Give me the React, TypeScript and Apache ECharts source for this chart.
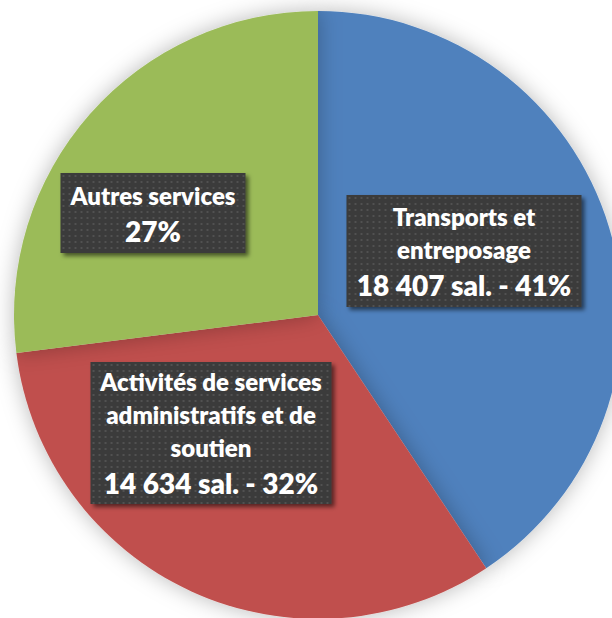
import React, { useEffect, useRef } from "react";
import * as echarts from "echarts";

const categories = ["Transports et entreposage", "Activités de services administratifs et de soutien", "Autres services"];
const labelNameLines = [["Transports et", "entreposage"], ["Activités de services", "administratifs et de", "soutien"], ["Autres services"]];
const salaries = [18407, 14634, 12221];
const showCount = [true, true, false];
const colors = ["#4F81BD", "#C0504D", "#9BBB59"];

const labelBoxes = [
  { cx: 464, cy: 251, w: 235, h: 112, pad: [5, 0, 3, 0] },
  { cx: 211, cy: 433, w: 241, h: 142, pad: [3, 0, 2, 0] },
  { cx: 153, cy: 213, w: 185, h: 80, pad: [6, 0, 3, 0] },
];

function fmt(n: number): string {
  return String(n).replace(/\B(?=(\d{3})+(?!\d))/g, " ");
}

function dotted(w: number, h: number): any {
  try {
    const c = document.createElement("canvas");
    c.width = w;
    c.height = h;
    const ctx = c.getContext("2d");
    if (!ctx) return "#3d3d3d";
    ctx.fillStyle = "#3a3a3a";
    ctx.fillRect(0, 0, w, h);
    ctx.fillStyle = "#515151";
    for (let y = 2; y < h; y += 6) {
      for (let x = 2; x < w; x += 6) {
        ctx.fillRect(x, y, 2, 2);
      }
    }
    return { image: c, repeat: "no-repeat" };
  } catch (e) {
    return "#3d3d3d";
  }
}

export default function App() {
  const ref = useRef<HTMLDivElement>(null);
  useEffect(() => {
    if (!ref.current) return;
    const chart = echarts.init(ref.current, null, { renderer: "svg" });
    chart.setOption({
      animation: false,
      backgroundColor: "#ffffff",
      series: [
        {
          type: "pie",
          center: [318, 315],
          radius: 304,
          startAngle: 90,
          clockwise: true,
          data: categories.map((c, i) => ({
            name: c,
            value: salaries[i],
            itemStyle: { color: colors[i] },
            label: {
              width: labelBoxes[i].w,
              padding: labelBoxes[i].pad,
              backgroundColor: dotted(labelBoxes[i].w, labelBoxes[i].h),
            },
          })),
          itemStyle: {
            shadowBlur: 22,
            shadowColor: "rgba(0,0,0,0.28)",
          },
          labelLine: { show: false },
          label: {
            show: true,
            position: "inside",
            shadowColor: "rgba(0,0,0,0.55)",
            shadowBlur: 4,
            shadowOffsetX: 3,
            shadowOffsetY: 3,
            align: "center",
            verticalAlign: "middle",
            formatter: (p: any) => {
              const i = p.dataIndex;
              const pct = Math.round(p.percent);
              const lines = labelNameLines[i].map((l) => `{n|${l}}`);
              const last = showCount[i] ? `${fmt(salaries[i])} sal. - ${pct}%` : `${pct}%`;
              return [...lines, `{v|${last}}`].join("\n");
            },
            rich: {
              n: {
                fontFamily: "Lato",
                fontWeight: 800,
                fontSize: 24,
                lineHeight: 33,
                color: "#ffffff",
                align: "center",
              },
              v: {
                fontFamily: "Lato",
                fontWeight: 800,
                fontSize: 28,
                lineHeight: 38,
                color: "#ffffff",
                align: "center",
              },
            },
          },
          labelLayout: (params: any) => {
            const b = labelBoxes[params.dataIndex];
            return { x: b.cx, y: b.cy, align: "center", verticalAlign: "middle" };
          },
        },
      ],
    });
    return () => chart.dispose();
  }, []);
  return (
    <div
      ref={ref}
      style={{ position: "fixed", left: 0, top: 0, width: 612, height: 618 }}
    />
  );
}
